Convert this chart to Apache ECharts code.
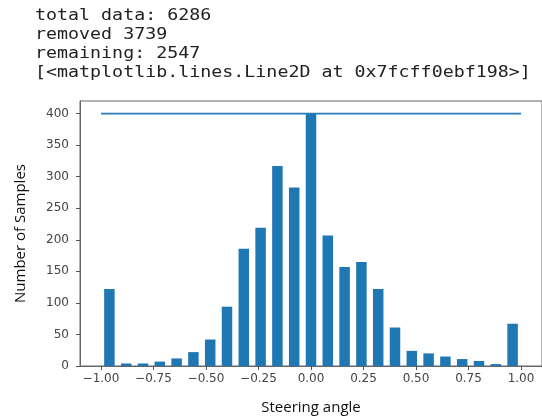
<!DOCTYPE html>
<html>
<head>
<meta charset="utf-8">
<script src="https://cdn.jsdelivr.net/npm/echarts@6/dist/echarts.min.js"></script>
<style>
  html, body { margin: 0; padding: 0; background: #fff; }
  #main { width: 542px; height: 420px; }
</style>
</head>
<body>
<div id="main"></div>
<script>
// histogram bin centres (25 bins on [-1, 1])
var binCenters = [-0.96, -0.88, -0.80, -0.72, -0.64, -0.56, -0.48, -0.40, -0.32, -0.24,
                  -0.16, -0.08, 0.00, 0.08, 0.16, 0.24, 0.32, 0.40, 0.48, 0.56,
                  0.64, 0.72, 0.80, 0.88, 0.96];
// samples per bin
var binCounts = [122, 4, 4, 7, 12, 22, 42, 94, 186, 219,
                 317, 283, 400, 207, 157, 165, 122, 61, 24, 20,
                 15, 11, 8, 3, 67];
// samples_per_bin threshold line
var lineX = [-1, 1];
var lineY = [400, 400];
var xTicks = [-1.0, -0.75, -0.5, -0.25, 0.0, 0.25, 0.5, 0.75, 1.0];
var yTicks = [0, 50, 100, 150, 200, 250, 300, 350, 400];
var headerLines = [
  'total data: 6286',
  'removed 3739',
  'remaining: 2547',
  '[<matplotlib.lines.Line2D at 0x7fcff0ebf198>]'
];

var barData = [];
for (var i = 0; i < binCenters.length; i++) {
  barData.push([binCenters[i], binCounts[i]]);
}
var lineData = [];
for (var j = 0; j < lineX.length; j++) {
  lineData.push([lineX[j], lineY[j]]);
}

var headerGraphics = [];
for (var k = 0; k < headerLines.length; k++) {
  headerGraphics.push({
    type: 'text',
    left: 35,
    top: 9 + k * 19,
    scaleX: 1.22,
    style: {
      text: headerLines[k],
      font: '15px "DejaVu Sans Mono"',
      fill: '#222'
    }
  });
}

var chart = echarts.init(document.getElementById('main'));
chart.setOption({
  animation: false,
  backgroundColor: '#fff',
  graphic: headerGraphics,
  grid: {
    left: 80, top: 101, width: 467, height: 268,
    show: true, borderColor: '#666', borderWidth: 1
  },
  xAxis: {
    type: 'value',
    min: -1.1, max: 1.1,
    name: 'Steering angle',
    nameLocation: 'middle',
    nameGap: 34,
    nameTextStyle: { fontFamily: 'Open Sans', fontSize: 15, color: '#111' },
    axisLine: { show: true, onZero: false, lineStyle: { color: '#666', width: 1 } },
    axisTick: { show: true, length: 4, lineStyle: { color: '#555' }, customValues: xTicks },
    axisLabel: {
      customValues: xTicks,
      margin: 7,
      fontFamily: 'DejaVu Sans', fontSize: 12, color: '#444',
      formatter: function (v) { return (v < 0 ? '\u2212' : '') + Math.abs(v).toFixed(2); }
    },
    splitLine: { show: false }
  },
  yAxis: {
    type: 'value',
    min: 0, max: 420,
    name: 'Number of Samples',
    nameLocation: 'middle',
    nameGap: 52,
    nameTextStyle: { fontFamily: 'Open Sans', fontSize: 15, color: '#111' },
    axisLine: { show: true, onZero: false, lineStyle: { color: '#666', width: 1 } },
    axisTick: { show: true, length: 4, lineStyle: { color: '#555' }, customValues: yTicks },
    axisLabel: {
      customValues: yTicks,
      margin: 11,
      fontFamily: 'DejaVu Sans', fontSize: 12, color: '#444'
    },
    splitLine: { show: false }
  },
  series: [
    {
      type: 'bar',
      data: barData,
      barWidth: 10.5,
      itemStyle: { color: '#1f77b4' }
    },
    {
      type: 'line',
      data: lineData,
      symbol: 'none',
      z: 3,
      lineStyle: { color: '#2a7db8', width: 1.6 }
    }
  ]
});
</script>
</body>
</html>
